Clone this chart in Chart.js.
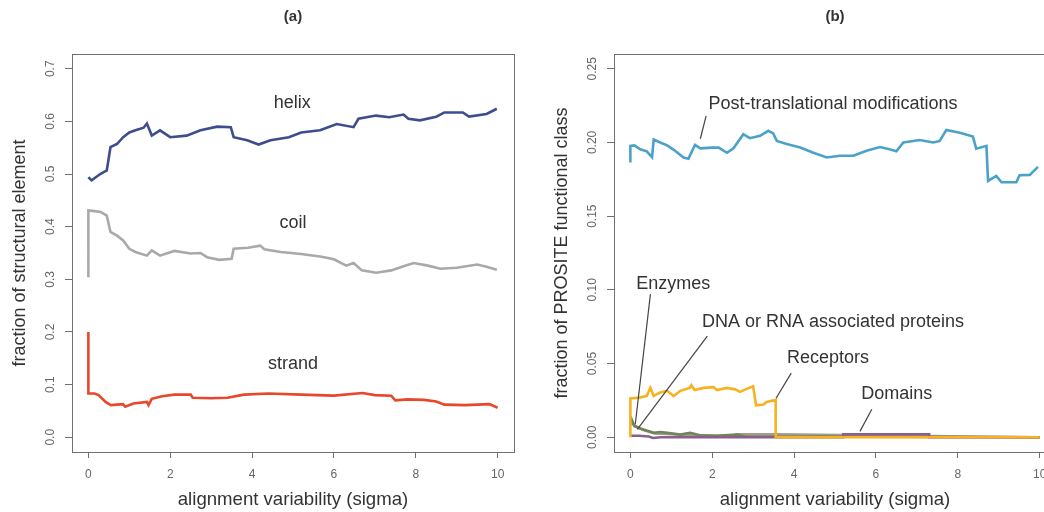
<!DOCTYPE html>
<html>
<head>
<meta charset="utf-8">
<script src="https://cdn.jsdelivr.net/npm/chart.js@4.4.1/dist/chart.umd.min.js"></script>
<style>
html,body{margin:0;padding:0;background:#fff;overflow:hidden}
#wrap{position:relative;width:1044px;height:512px;overflow:hidden}
.panel{position:absolute;top:0;width:522px;height:512px}
#pa{left:0}
#pb{left:542px}
</style>
</head>
<body>
<div id="wrap">
<div class="panel" id="pa"><canvas id="chart-a"></canvas></div>
<div class="panel" id="pb"><canvas id="chart-b"></canvas></div>
</div>
<script>
// ---- data ----
const xTicks = [0, 2, 4, 6, 8, 10]
const yTicksA = [0, 0.1, 0.2, 0.3, 0.4, 0.5, 0.6, 0.7]
const yTickLabelsA = ["0.0", "0.1", "0.2", "0.3", "0.4", "0.5", "0.6", "0.7"]
const yTicksB = [0, 0.05, 0.1, 0.15, 0.2, 0.25]
const yTickLabelsB = ["0.00", "0.05", "0.10", "0.15", "0.20", "0.25"]

// panel (a)
const helixX = [0,0.08,0.29,0.45,0.54,0.7,0.85,1.0,1.15,1.35,1.43,1.55,1.75,2.0,2.4,2.74,3.15,3.48,3.55,3.88,4.16,4.45,4.9,5.2,5.66,6.07,6.48,6.6,7.03,7.35,7.7,7.82,8.1,8.5,8.7,9.15,9.3,9.73,9.98]
const helixY = [0.494,0.488,0.500,0.507,0.551,0.557,0.570,0.579,0.583,0.588,0.596,0.573,0.583,0.570,0.573,0.583,0.590,0.589,0.570,0.564,0.556,0.564,0.570,0.579,0.583,0.595,0.589,0.605,0.611,0.608,0.613,0.605,0.602,0.609,0.617,0.617,0.609,0.614,0.624]

const coilX = [0,0,0.1,0.3,0.45,0.54,0.7,0.85,1.0,1.15,1.43,1.55,1.75,2.1,2.5,2.74,2.9,3.2,3.5,3.55,3.9,4.2,4.3,4.7,5.2,5.7,6.0,6.3,6.48,6.68,7.03,7.4,7.7,7.95,8.3,8.6,9.0,9.5,9.73,9.98]
const coilY = [0.304,0.431,0.430,0.428,0.421,0.390,0.383,0.374,0.358,0.352,0.345,0.355,0.345,0.354,0.349,0.350,0.342,0.337,0.339,0.358,0.360,0.364,0.357,0.352,0.348,0.343,0.338,0.326,0.331,0.317,0.3125,0.317,0.325,0.331,0.326,0.320,0.322,0.328,0.324,0.318]

const strandX = [0,0,0.15,0.25,0.42,0.55,0.85,0.9,1.1,1.43,1.47,1.55,1.8,2.1,2.5,2.55,3.0,3.4,3.8,4.4,5.2,6.0,6.7,7.0,7.4,7.5,7.8,8.2,8.5,8.7,9.2,9.8,10.0]
const strandY = [0.200,0.083,0.083,0.080,0.067,0.061,0.063,0.058,0.064,0.067,0.061,0.073,0.078,0.081,0.081,0.075,0.074,0.075,0.081,0.083,0.081,0.079,0.084,0.080,0.079,0.070,0.072,0.071,0.068,0.062,0.061,0.063,0.056]

// panel (b)
const ptmX = [0,0,0.1,0.24,0.4,0.53,0.57,0.73,0.9,1.06,1.3,1.42,1.58,1.71,2.0,2.16,2.36,2.52,2.76,2.92,3.17,3.37,3.49,3.58,3.82,4.15,4.47,4.8,5.12,5.45,5.77,6.1,6.33,6.5,6.67,7.07,7.4,7.56,7.72,8.05,8.37,8.45,8.7,8.74,8.94,9.07,9.43,9.51,9.76,9.96]
const ptmY = [0.1864,0.1977,0.198,0.1954,0.194,0.190,0.202,0.200,0.198,0.195,0.1898,0.189,0.1984,0.196,0.1965,0.1965,0.193,0.196,0.2056,0.2029,0.2045,0.2079,0.2061,0.201,0.199,0.1965,0.193,0.1898,0.191,0.191,0.1943,0.1969,0.1954,0.194,0.200,0.2016,0.200,0.201,0.2085,0.2066,0.204,0.1958,0.1977,0.1739,0.1773,0.173,0.173,0.1778,0.178,0.1834]

const recX = [0,0,0.24,0.4,0.49,0.57,0.73,0.9,1.06,1.22,1.45,1.49,1.57,1.79,2.03,2.11,2.36,2.56,2.68,2.84,3.0,3.07,3.25,3.33,3.55,3.55,10]
const recY = [0,0.0263,0.027,0.0281,0.0335,0.028,0.0304,0.0315,0.028,0.0315,0.0335,0.0353,0.032,0.0335,0.034,0.032,0.0335,0.0325,0.0308,0.0328,0.0346,0.0217,0.0222,0.024,0.0253,0,0]

const enzX = [0,0.1,0.24,0.57,0.73,0.9,1.22,1.46,1.7,2.1,2.6,2.8,3.55,10]
const enzY = [0.014,0.0075,0.006,0.003,0.0036,0.003,0.0018,0.003,0.0014,0.001,0.0018,0.0005,0.0005,0]

const dnaX = [0,0.1,0.3,0.6,1.0,1.5,2.0,2.5,2.6,3.55,10]
const dnaY = [0.01,0.008,0.005,0.0025,0.002,0.0015,0.001,0.001,0.002,0.002,0]

const domX = [0,0.2,0.45,0.55,0.75,1.0,5.2,5.2,7.3,7.3,10]
const domY = [0.001,0.001,0.0005,-0.0005,0,0,0,0.002,0.002,0,0]

// text labels, placed in data units
const notesA = [
  {text:"helix", x:4.98, y:0.634},
  {text:"coil", x:5.0, y:0.406},
  {text:"strand", x:5.0, y:0.140}
]
const notesB = [
  {text:"Post-translational modifications", x:4.95, y:0.226},
  {text:"Enzymes", x:1.05, y:0.104},
  {text:"DNA or RNA associated proteins", x:4.95, y:0.078},
  {text:"Receptors", x:4.83, y:0.0537},
  {text:"Domains", x:6.51, y:0.0292}
]
const leadersB = [
  [1.85,0.218,1.71,0.2025],
  [0.49,0.0971,0.12,0.0088],
  [1.88,0.0686,0.17,0.0054],
  [3.93,0.0435,3.56,0.0265],
  [5.9,0.019,5.61,0.004]
]

const pts = (xs, ys) => xs.map((x, i) => ({x, y: ys[i]}))

/* R-like frame, rotated y tick labels, title and notes */
const rFrame = {
  id: "rFrame",
  afterDraw(chart, args, opts){
    const {ctx, chartArea:a, scales} = chart
    const xs = scales.x, ys = scales.y
    ctx.save()
    ctx.strokeStyle = "#707070"
    ctx.lineWidth = 1
    ctx.strokeRect(Math.round(a.left)+0.5, Math.round(a.top)+0.5, Math.round(a.right-a.left), Math.round(a.bottom-a.top))

    ctx.fillStyle = "#666"
    ctx.font = '12px "Liberation Sans", Arial, sans-serif'
    ctx.textAlign = "center"
    ctx.textBaseline = "middle"
    ys.ticks.forEach((t, i) => {
      ctx.save()
      ctx.translate(a.left - 21, ys.getPixelForValue(t.value))
      ctx.rotate(-Math.PI/2)
      ctx.fillText(opts.yLabels[i], 0, 0)
      ctx.restore()
    })

    ctx.fillStyle = "#333"
    ctx.font = 'bold 15px "Liberation Sans", Arial, sans-serif'
    ctx.fillText(opts.title, (a.left + a.right)/2, 17)

    ctx.strokeStyle = "#444"
    ctx.lineWidth = 1.2
    ;(opts.leaders || []).forEach(l => {
      ctx.beginPath()
      ctx.moveTo(xs.getPixelForValue(l[0]), ys.getPixelForValue(l[1]))
      ctx.lineTo(xs.getPixelForValue(l[2]), ys.getPixelForValue(l[3]))
      ctx.stroke()
    })

    ctx.fillStyle = "#333"
    ctx.font = '18px "Liberation Sans", Arial, sans-serif'
    opts.notes.forEach(n => {
      ctx.fillText(n.text, xs.getPixelForValue(n.x), ys.getPixelForValue(n.y))
    })
    ctx.restore()
  }
}

function makeChart(id, datasets, yMin, yMax, yTicks, yLabels, yTitle, title, notes, leaders){
  const ctx = document.getElementById(id).getContext("2d")
  return new Chart(ctx, {
    type: "line",
    data: {datasets},
    options: {
      responsive: true,
      maintainAspectRatio: false,
      animation: false,
      layout: {padding: {left: 0, top: 54, right: 8, bottom: 0}},
      elements: {point: {radius: 0}, line: {tension: 0, borderWidth: 2.6}},
      plugins: {
        legend: {display: false},
        tooltip: {enabled: false},
        rFrame: {yLabels, title, notes, leaders}
      },
      scales: {
        x: {
          type: "linear",
          min: -0.4,
          max: 10.4,
          afterBuildTicks: s => { s.ticks = xTicks.map(v => ({value: v})) },
          afterFit: s => { s.height = 60 },
          grid: {drawOnChartArea: false, drawTicks: true, tickLength: 6, color: "#707070"},
          border: {display: false},
          ticks: {color: "#666", font: {size: 12, family: '"Liberation Sans", Arial'}, padding: 9, maxRotation: 0},
          title: {display: true, text: "alignment variability (sigma)", color: "#333",
            font: {size: 18.6, family: '"Liberation Sans", Arial'}, padding: {top: 0, bottom: 1}}
        },
        y: {
          type: "linear",
          min: yMin,
          max: yMax,
          afterBuildTicks: s => { s.ticks = yTicks.map(v => ({value: v})) },
          afterFit: s => { s.width = 72 },
          grid: {drawOnChartArea: false, drawTicks: true, tickLength: 7, color: "#707070"},
          border: {display: false},
          ticks: {display: false},
          title: {display: true, text: yTitle, color: "#333",
            font: {size: 18, family: '"Liberation Sans", Arial'}, padding: {top: 9, bottom: 0}}
        }
      }
    },
    plugins: [rFrame]
  })
}

makeChart("chart-a", [
  {label: "helix", data: pts(helixX, helixY), borderColor: "#3d4d8e"},
  {label: "coil", data: pts(coilX, coilY), borderColor: "#a9a9a9"},
  {label: "strand", data: pts(strandX, strandY), borderColor: "#e8472c"}
], -0.028, 0.728, yTicksA, yTickLabelsA, "fraction of structural element", "(a)", notesA, [])

makeChart("chart-b", [
  {label: "Post-translational modifications", data: pts(ptmX, ptmY), borderColor: "#4aa2c9"},
  {label: "Receptors", data: pts(recX, recY), borderColor: "#f6b220"},
  {label: "Domains", data: pts(domX, domY), borderColor: "#8e5d8e"},
  {label: "Enzymes", data: pts(enzX, enzY), borderColor: "#6e845a"},
  {label: "DNA or RNA associated proteins", data: pts(dnaX, dnaY), borderColor: "#a59a8c"}
], -0.01, 0.26, yTicksB, yTickLabelsB, "fraction of PROSITE functional class", "(b)", notesB, leadersB)
</script>
</body>
</html>
